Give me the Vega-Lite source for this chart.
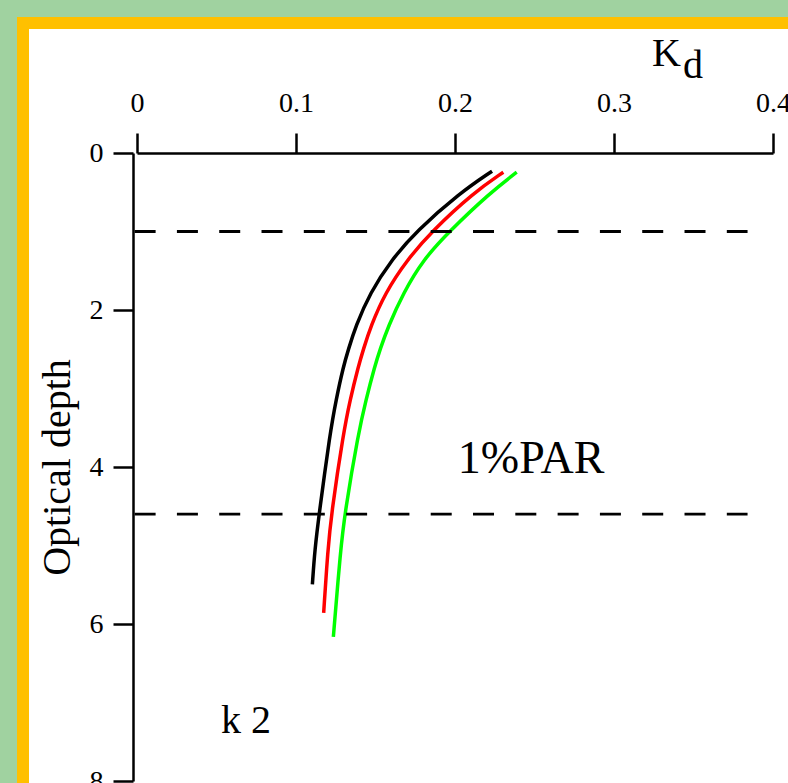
{
  "$schema": "https://vega.github.io/schema/vega-lite/v6.json",
  "width": 636,
  "height": 628,
  "autosize": {"type": "none"},
  "padding": {"left": 137, "top": 153, "right": 15, "bottom": 2},
  "config": {"background": "#FFFFFF", "view": {"stroke": null}, "font": "Liberation Serif", "axis": {"grid": false}},
  "datasets": {
    "curves": [
      {"series": "s1", "depth": 0.232, "kd": 0.2233},
      {"series": "s1", "depth": 0.508, "kd": 0.2031},
      {"series": "s1", "depth": 1.0, "kd": 0.1755},
      {"series": "s1", "depth": 1.358, "kd": 0.1602},
      {"series": "s1", "depth": 1.783, "kd": 0.1465},
      {"series": "s1", "depth": 2.209, "kd": 0.1375},
      {"series": "s1", "depth": 2.506, "kd": 0.1329},
      {"series": "s1", "depth": 2.72, "kd": 0.1298},
      {"series": "s1", "depth": 3.144, "kd": 0.1252},
      {"series": "s1", "depth": 3.57, "kd": 0.1214},
      {"series": "s1", "depth": 4.573, "kd": 0.1147},
      {"series": "s1", "depth": 5.057, "kd": 0.1118},
      {"series": "s1", "depth": 5.495, "kd": 0.1103},
      {"series": "s2", "depth": 0.245, "kd": 0.2304},
      {"series": "s2", "depth": 0.508, "kd": 0.2115},
      {"series": "s2", "depth": 1.0, "kd": 0.1853},
      {"series": "s2", "depth": 1.358, "kd": 0.170},
      {"series": "s2", "depth": 1.783, "kd": 0.156},
      {"series": "s2", "depth": 2.209, "kd": 0.147},
      {"series": "s2", "depth": 2.506, "kd": 0.1423},
      {"series": "s2", "depth": 2.72, "kd": 0.1392},
      {"series": "s2", "depth": 3.144, "kd": 0.134},
      {"series": "s2", "depth": 3.57, "kd": 0.1298},
      {"series": "s2", "depth": 4.573, "kd": 0.1224},
      {"series": "s2", "depth": 5.057, "kd": 0.120},
      {"series": "s2", "depth": 5.857, "kd": 0.1174},
      {"series": "s3", "depth": 0.245, "kd": 0.2388},
      {"series": "s3", "depth": 0.508, "kd": 0.222},
      {"series": "s3", "depth": 1.0, "kd": 0.1963},
      {"series": "s3", "depth": 1.358, "kd": 0.180},
      {"series": "s3", "depth": 1.783, "kd": 0.1675},
      {"series": "s3", "depth": 2.209, "kd": 0.158},
      {"series": "s3", "depth": 2.506, "kd": 0.1528},
      {"series": "s3", "depth": 2.72, "kd": 0.1495},
      {"series": "s3", "depth": 3.144, "kd": 0.144},
      {"series": "s3", "depth": 3.57, "kd": 0.1392},
      {"series": "s3", "depth": 4.573, "kd": 0.1308},
      {"series": "s3", "depth": 5.057, "kd": 0.128},
      {"series": "s3", "depth": 6.163, "kd": 0.1235}
    ],
    "levels": [
      {"depth": 1.0, "kd": -0.0015, "kd_end": 0.384},
      {"depth": 4.6, "kd": -0.0015, "kd_end": 0.384}
    ],
    "bignote": [{"label": "1%PAR", "kd": 0.2018, "depth": 4.079}],
    "notes": [
      {"label": "k 2", "kd": 0.0528, "depth": 7.388},
      {"label": "K", "kd": 0.3239, "depth": -1.107},
      {"label": "d", "kd": 0.3434, "depth": -0.959}
    ],
    "outer": [{"kd": -0.08616, "kd_end": 0.6, "depth": -1.949, "depth_end": 9.5}],
    "frame": [{"kd": -0.0717, "kd_end": 0.6, "depth": -1.656, "depth_end": 9.5}]
  },
  "layer": [
    {
      "data": {"name": "curves"},
      "mark": {"type": "line", "strokeWidth": 3.5, "interpolate": "basis"},
      "encoding": {
        "x": {
          "field": "kd", "type": "quantitative",
          "scale": {"domain": [0, 0.4], "nice": false, "zero": false},
          "axis": {
            "orient": "top", "title": null, "zindex": 1,
            "tickCount": 4, "format": "~g",
            "tickSize": 20, "tickWidth": 2.5, "domainWidth": 2.5,
            "tickColor": "#000000", "domainColor": "#000000",
            "labelColor": "#000000", "labelFont": "Liberation Serif", "labelFontSize": 28,
            "labelPadding": 16, "labelFlush": false
          }
        },
        "y": {
          "field": "depth", "type": "quantitative",
          "scale": {"domain": [0, 8], "nice": false, "zero": false, "reverse": true},
          "axis": {
            "orient": "left", "zindex": 1, "offset": 4,
            "tickCount": 4, "format": "~g",
            "tickSize": 20, "tickWidth": 2.5, "domainWidth": 2.5,
            "tickColor": "#000000", "domainColor": "#000000",
            "labelColor": "#000000", "labelFont": "Liberation Serif", "labelFontSize": 28,
            "labelPadding": 10, "labelFlush": false,
            "title": "Optical depth", "titleFont": "Liberation Serif", "titleFontSize": 40,
            "titleFontWeight": "normal", "titleColor": "#000000", "titlePadding": 12
          }
        },
        "color": {
          "field": "series", "type": "nominal",
          "scale": {"domain": ["s1", "s2", "s3"], "range": ["#000000", "#FF0000", "#00FF00"]},
          "legend": null
        }
      }
    },
    {
      "data": {"name": "levels"},
      "mark": {"type": "rule", "stroke": "#000000", "strokeWidth": 2.8, "strokeDash": [21, 21.3]},
      "encoding": {
        "x": {"field": "kd", "type": "quantitative"},
        "x2": {"field": "kd_end"},
        "y": {"field": "depth", "type": "quantitative"}
      }
    },
    {
      "data": {"name": "bignote"},
      "mark": {"type": "text", "font": "Liberation Serif", "fontSize": 46, "align": "left", "baseline": "alphabetic", "color": "#000000"},
      "encoding": {
        "x": {"field": "kd", "type": "quantitative"},
        "y": {"field": "depth", "type": "quantitative"},
        "text": {"field": "label", "type": "nominal"}
      }
    },
    {
      "data": {"name": "notes"},
      "mark": {"type": "text", "font": "Liberation Serif", "fontSize": 40, "align": "left", "baseline": "alphabetic", "color": "#000000"},
      "encoding": {
        "x": {"field": "kd", "type": "quantitative"},
        "y": {"field": "depth", "type": "quantitative"},
        "text": {"field": "label", "type": "nominal"}
      }
    },
    {
      "data": {"name": "outer"},
      "mark": {"type": "rect", "fillOpacity": 0, "stroke": "#A0D2A0", "strokeWidth": 34},
      "encoding": {
        "x": {"field": "kd", "type": "quantitative"},
        "x2": {"field": "kd_end"},
        "y": {"field": "depth", "type": "quantitative"},
        "y2": {"field": "depth_end"}
      }
    },
    {
      "data": {"name": "frame"},
      "mark": {"type": "rect", "fillOpacity": 0, "stroke": "#FFC000", "strokeWidth": 12},
      "encoding": {
        "x": {"field": "kd", "type": "quantitative"},
        "x2": {"field": "kd_end"},
        "y": {"field": "depth", "type": "quantitative"},
        "y2": {"field": "depth_end"}
      }
    }
  ]
}
